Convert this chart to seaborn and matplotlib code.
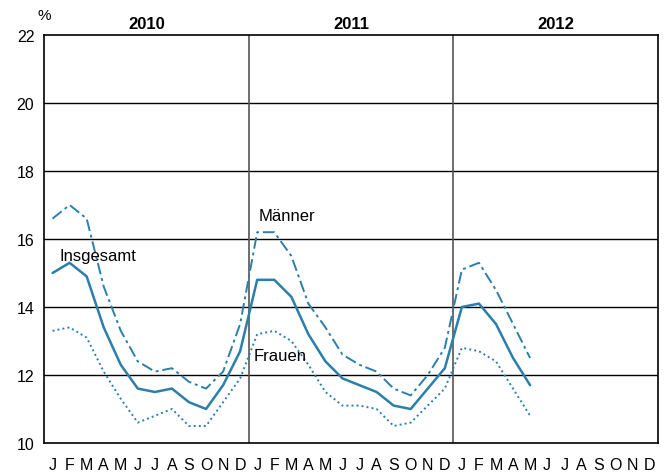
import pandas as pd
import matplotlib
matplotlib.use("Agg")
import matplotlib.pyplot as plt
import seaborn as sns

years = ["2010", "2011", "2012"]
month_letters = ["J", "F", "M", "A", "M", "J", "J", "A", "S", "O", "N", "D"]

insgesamt = [15.0, 15.3, 14.9, 13.4, 12.3, 11.6, 11.5, 11.6, 11.2, 11.0, 11.7, 12.7,
             14.8, 14.8, 14.3, 13.2, 12.4, 11.9, 11.7, 11.5, 11.1, 11.0, 11.6, 12.2,
             14.0, 14.1, 13.5, 12.5, 11.7]
maenner = [16.6, 17.0, 16.6, 14.6, 13.3, 12.4, 12.1, 12.2, 11.8, 11.6, 12.1, 13.5,
           16.2, 16.2, 15.5, 14.1, 13.4, 12.6, 12.3, 12.1, 11.6, 11.4, 12.0, 12.8,
           15.1, 15.3, 14.5, 13.5, 12.5]
frauen = [13.3, 13.4, 13.1, 12.1, 11.3, 10.6, 10.8, 11.0, 10.5, 10.5, 11.2, 11.9,
          13.2, 13.3, 13.0, 12.3, 11.5, 11.1, 11.1, 11.0, 10.5, 10.6, 11.1, 11.6,
          12.8, 12.7, 12.4, 11.6, 10.8]

color = "#2a7fab"

sns.set_theme(style="white")
plt.rcParams["font.family"] = ["Liberation Sans", "DejaVu Sans"]
plt.rcParams["text.color"] = "black"
plt.rcParams["xtick.color"] = "black"
plt.rcParams["ytick.color"] = "black"

df = pd.DataFrame({
    "pos": range(len(insgesamt)),
    "Insgesamt": insgesamt,
    "Männer": maenner,
    "Frauen": frauen,
})

fig = plt.figure(figsize=(6.7, 4.77), dpi=100)
ax = fig.add_axes([0.0657, 0.0692, 0.9164, 0.8553])

sns.lineplot(data=df, x="pos", y="Männer", ax=ax, color=color, lw=1.4,
             linestyle=(0, (6, 2, 1.5, 2)))
sns.lineplot(data=df, x="pos", y="Frauen", ax=ax, color=color, lw=1.4,
             linestyle=(0, (1, 1.6)))
sns.lineplot(data=df, x="pos", y="Insgesamt", ax=ax, color=color, lw=1.8)

n_months = 12 * len(years)
ax.set_xlim(-0.5, n_months - 0.5)
ax.set_ylim(10, 22)

# horizontal grid lines
for y in range(12, 22, 2):
    ax.axhline(y, color="black", lw=1.0, zorder=0)
# year separators
for i in range(1, len(years)):
    ax.axvline(12 * i - 0.5, color="#555555", lw=1.2, zorder=0)

for sp in ax.spines.values():
    sp.set_color("black")
    sp.set_linewidth(1.2)

ax.set_yticks(range(10, 23, 2))
ax.set_yticklabels([str(v) for v in range(10, 23, 2)], fontsize=11.5)
ax.set_xticks([i - 0.5 for i in range(n_months + 1)])
ax.set_xticklabels([])
ax.set_xticks(range(n_months), minor=True)
ax.set_xticklabels(month_letters * len(years), minor=True, fontsize=11.5)
ax.tick_params(axis="x", which="major", direction="out", length=4, width=1, color="black")
ax.tick_params(axis="x", which="minor", length=0, pad=10)
ax.tick_params(axis="y", direction="out", length=5, width=1, color="black", pad=2)
ax.set_xlabel("")
ax.set_ylabel("")

for i, yr in enumerate(years):
    ax.text(12 * i + 5.5, 22.2, yr, ha="center", va="baseline", fontsize=12, fontweight="bold")
ax.text(-0.5, 22.48, "%", ha="center", va="baseline", fontsize=11)

ax.text(0.4, 15.38, "Insgesamt", fontsize=12, ha="left", va="baseline")
ax.text(12.1, 16.56, "Männer", fontsize=12, ha="left", va="baseline")
ax.text(11.8, 12.44, "Frauen", fontsize=12, ha="left", va="baseline")

fig.savefig("out.png", dpi=100)
